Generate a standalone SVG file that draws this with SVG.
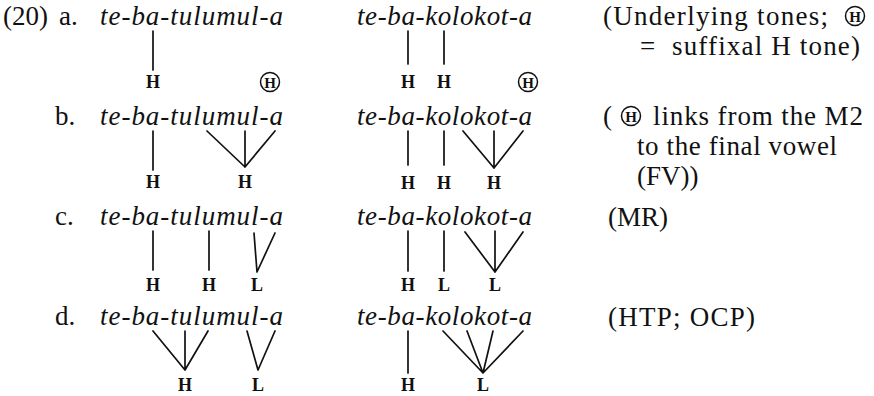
<svg xmlns="http://www.w3.org/2000/svg" width="874" height="396" viewBox="0 0 874 396">
<style>
.rm{font-family:"Liberation Serif","Times New Roman",serif;font-size:27px;fill:#111}
.it{font-family:"Liberation Serif","Times New Roman",serif;font-style:italic;font-size:27px;fill:#111}
.tn{font-family:"Liberation Serif","Times New Roman",serif;font-size:18px;font-weight:bold;fill:#111;text-anchor:middle}
.ch{font-family:"Liberation Serif","Times New Roman",serif;font-size:15px;font-weight:bold;fill:#111;text-anchor:middle}
.c{fill:none;stroke:#111;stroke-width:1.5}
.ln{fill:none;stroke:#111;stroke-width:1.7;stroke-linecap:round}
</style>
<rect width="874" height="396" fill="#fff"/>

<g id="labels">
<text class="rm" x="3" y="25">(20)</text>
<text class="rm" x="59" y="25">a.</text>
<text class="rm" x="55" y="125">b.</text>
<text class="rm" x="55" y="225">c.</text>
<text class="rm" x="55" y="325">d.</text>
</g>

<g id="row-a">
<g id="a-tulumul"><text class="it" x="100" y="25" textLength="183" lengthAdjust="spacing">te-ba-tulumul-a</text>
<text class="tn" x="153" y="88">H</text>
<g id="a-tulumul-suffix"><circle class="c" cx="270" cy="82" r="9.5"/><text class="ch" x="270" y="87.5">H</text></g></g>
<g id="a-kolokot"><text class="it" x="357" y="25" textLength="175" lengthAdjust="spacing">te-ba-kolokot-a</text>
<text class="tn" x="408" y="88">H</text><text class="tn" x="444" y="88">H</text>
<g id="a-kolokot-suffix"><circle class="c" cx="528" cy="82" r="9.5"/><text class="ch" x="528" y="87.5">H</text></g></g>
<g id="a-note"><text class="rm" x="603" y="25" textLength="225" lengthAdjust="spacing">(Underlying tones;</text>
<circle class="c" cx="855" cy="16" r="9.5"/><text class="ch" x="855" y="21.5">H</text>
<text class="rm" x="640" y="55">=</text>
<text class="rm" x="672" y="55" textLength="188" lengthAdjust="spacing">suffixal H tone)</text></g>
</g>

<g id="row-b">
<g id="b-tulumul"><text class="it" x="100" y="125" textLength="183" lengthAdjust="spacing">te-ba-tulumul-a</text>
<text class="tn" x="153" y="188">H</text><text class="tn" x="245" y="188">H</text></g>
<g id="b-kolokot"><text class="it" x="357" y="125" textLength="175" lengthAdjust="spacing">te-ba-kolokot-a</text>
<text class="tn" x="408" y="189">H</text><text class="tn" x="444" y="189">H</text><text class="tn" x="494" y="189">H</text></g>
<g id="b-note"><text class="rm" x="603" y="125">(</text>
<circle class="c" cx="631" cy="116" r="9.5"/><text class="ch" x="631" y="121.5">H</text>
<text class="rm" x="653" y="125" textLength="210" lengthAdjust="spacing">links from the M2</text>
<text class="rm" x="637" y="155" textLength="200" lengthAdjust="spacing">to the final vowel</text>
<text class="rm" x="637" y="185">(FV))</text></g>
</g>

<g id="row-c">
<g id="c-tulumul"><text class="it" x="100" y="225" textLength="183" lengthAdjust="spacing">te-ba-tulumul-a</text>
<text class="tn" x="153" y="291">H</text><text class="tn" x="209" y="291">H</text><text class="tn" x="257" y="291">L</text></g>
<g id="c-kolokot"><text class="it" x="357" y="225" textLength="175" lengthAdjust="spacing">te-ba-kolokot-a</text>
<text class="tn" x="408" y="291">H</text><text class="tn" x="444" y="291">L</text><text class="tn" x="495" y="291">L</text></g>
<g id="c-note"><text class="rm" x="608" y="226">(MR)</text></g>
</g>

<g id="row-d">
<g id="d-tulumul"><text class="it" x="100" y="325" textLength="183" lengthAdjust="spacing">te-ba-tulumul-a</text>
<text class="tn" x="185" y="391">H</text><text class="tn" x="258" y="391">L</text></g>
<g id="d-kolokot"><text class="it" x="357" y="325" textLength="175" lengthAdjust="spacing">te-ba-kolokot-a</text>
<text class="tn" x="408" y="391">H</text><text class="tn" x="483" y="391">L</text></g>
<g id="d-note"><text class="rm" x="608" y="326" textLength="147" lengthAdjust="spacing">(HTP; OCP)</text></g>
</g>

<g id="connectors">
<path class="ln" d="M153 31V70M408 31V64M444 31V64"/>
<path class="ln" d="M153 131V170M408 131V165M444 131V165"/>
<path class="ln" d="M207 131L245 167M245 131V167M275 131L245 167"/>
<path class="ln" d="M463 131L494 168M494 131V168M523 131L494 168"/>
<path class="ln" d="M153 231V270M209 231V270M254 233L257 272M275 233L257 272"/>
<path class="ln" d="M408 231V271M444 231V271M465 232L495 272M495 231V272M523 232L495 272"/>
<path class="ln" d="M153 331L185 370M185 331V370M208 331L185 370M247 331L258 370M275 331L258 370"/>
<path class="ln" d="M408 331V373M443 331L483 373M467 331L483 373M493 331L483 373M523 331L483 373"/>
</g>
</svg>
